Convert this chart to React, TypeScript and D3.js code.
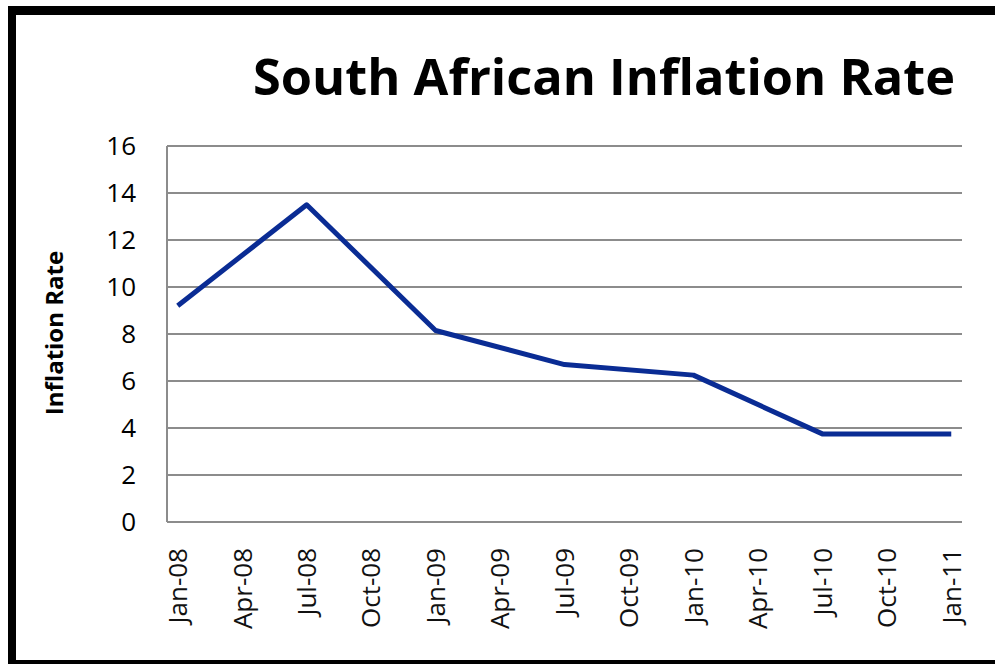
import { useEffect, useRef } from "react"
import * as d3 from "d3"

// data (semi-annual readings)
const pointDates = ["2008-01", "2008-07", "2009-01", "2009-07", "2010-01", "2010-07", "2011-01"]
const inflation = [9.2, 13.5, 8.15, 6.7, 6.25, 3.75, 3.75]
const yTicks = [0, 2, 4, 6, 8, 10, 12, 14, 16]
const xTickLabels = ["Jan-08", "Apr-08", "Jul-08", "Oct-08", "Jan-09", "Apr-09", "Jul-09", "Oct-09", "Jan-10", "Apr-10", "Jul-10", "Oct-10", "Jan-11"]

const title = "South African Inflation Rate"
const yLabel = "Inflation Rate"

const parseMonth = d3.timeParse("%Y-%m")

const App = () => {
  const svgRef = useRef<SVGSVGElement | null>(null)

  useEffect(() => {
    if (!svgRef.current) return
    const svg = d3.select(svgRef.current)
    svg.selectAll("*").remove()

    const width = 995
    const height = 664
    const plot = { left: 167, right: 962, top: 146, bottom: 522 }
    const font = "'Open Sans', 'Noto Sans', sans-serif"

    const start = parseMonth(pointDates[0]) as Date
    const monthIdx = (d: Date) => d3.timeMonth.count(start, d)

    // month index with half-month padding on both ends, like a date axis
    const x = d3.scaleLinear().domain([-0.5, 36.5]).range([plot.left, plot.right])
    const y = d3.scaleLinear().domain([0, 16]).range([plot.bottom, plot.top])

    svg.append("rect").attr("width", width).attr("height", height).attr("fill", "#fff")

    // outer frame: top, left and bottom only (right side is cut off)
    const frame = svg.append("g").attr("stroke", "#000")
    frame.append("line").attr("x1", 8).attr("x2", width).attr("y1", 10.5).attr("y2", 10.5).attr("stroke-width", 9)
    frame.append("line").attr("x1", 12).attr("x2", 12).attr("y1", 6).attr("y2", height).attr("stroke-width", 8)
    frame.append("line").attr("x1", 8).attr("x2", width).attr("y1", 664).attr("y2", 664).attr("stroke-width", 8)

    // title
    svg
      .append("text")
      .attr("x", 253)
      .attr("y", 95)
      .attr("font-family", font)
      .attr("font-weight", "bold")
      .attr("font-size", 50)
      .attr("textLength", 702)
      .attr("lengthAdjust", "spacingAndGlyphs")
      .attr("fill", "#000")
      .text(title)

    // gridlines
    svg
      .append("g")
      .selectAll("line")
      .data(yTicks)
      .join("line")
      .attr("x1", plot.left)
      .attr("x2", plot.right)
      .attr("y1", (d) => y(d))
      .attr("y2", (d) => y(d))
      .attr("stroke", "#8c8c8c")
      .attr("stroke-width", 2)

    // left axis line
    svg
      .append("line")
      .attr("x1", plot.left)
      .attr("x2", plot.left)
      .attr("y1", plot.top)
      .attr("y2", plot.bottom)
      .attr("stroke", "#8c8c8c")
      .attr("stroke-width", 2)

    // y tick labels
    svg
      .append("g")
      .selectAll("text")
      .data(yTicks)
      .join("text")
      .attr("x", 136)
      .attr("y", (d) => y(d))
      .attr("dy", "0.36em")
      .attr("text-anchor", "end")
      .attr("font-family", font)
      .attr("font-size", 26)
      .attr("fill", "#000")
      .text((d) => d)

    // x tick labels, rotated
    const tickDates = d3.timeMonth.every(3)!.range(start, d3.timeMonth.offset(start, 37))
    svg
      .append("g")
      .selectAll("text")
      .data(tickDates)
      .join("text")
      .attr("transform", (d) => `translate(${x(monthIdx(d))},548) rotate(-90)`)
      .attr("dy", "0.36em")
      .attr("text-anchor", "end")
      .attr("font-family", font)
      .attr("font-size", 26)
      .attr("fill", "#111")
      .text((d, i) => xTickLabels[i])

    // y axis title
    svg
      .append("text")
      .attr("transform", "translate(55,333) rotate(-90)")
      .attr("dy", "0.35em")
      .attr("text-anchor", "middle")
      .attr("font-family", font)
      .attr("font-weight", "bold")
      .attr("font-size", 24)
      .attr("fill", "#000")
      .text(yLabel)

    // the series
    const points = pointDates.map((s, i) => ({ date: parseMonth(s) as Date, value: inflation[i] }))
    const line = d3
      .line<{ date: Date; value: number }>()
      .x((d) => x(monthIdx(d.date)))
      .y((d) => y(d.value))

    svg
      .append("path")
      .datum(points)
      .attr("d", line)
      .attr("fill", "none")
      .attr("stroke", "#0a2c94")
      .attr("stroke-width", 5)
      .attr("stroke-linejoin", "round")
  }, [])

  return (
    <div style={{ position: "fixed", left: 0, top: 0, width: 995, height: 664, overflow: "hidden", background: "#fff" }}>
      <svg ref={svgRef} width={995} height={664} style={{ display: "block" }} />
    </div>
  )
}

export default App
